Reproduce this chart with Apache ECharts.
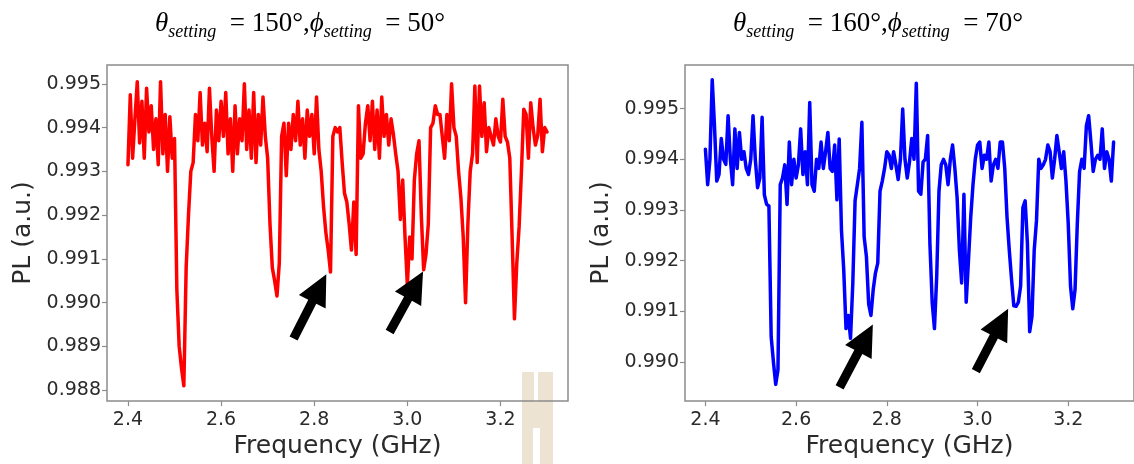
<!DOCTYPE html>
<html>
<head>
<meta charset="utf-8">
<script src="https://cdn.jsdelivr.net/npm/echarts@6/dist/echarts.min.js"></script>
<style>
  html, body { margin: 0; padding: 0; background: #ffffff; }
  #chart { width: 1134px; height: 464px; }
</style>
</head>
<body>
<div id="chart"></div>
<script>
// Microwave sweep frequencies (GHz), one row per 0.05 GHz
const freqGHz = [
  2.400, 2.405, 2.410, 2.415, 2.420, 2.425, 2.430, 2.435, 2.440, 2.445,
  2.450, 2.455, 2.460, 2.465, 2.470, 2.475, 2.480, 2.485, 2.490, 2.495,
  2.500, 2.505, 2.510, 2.515, 2.520, 2.525, 2.530, 2.535, 2.540, 2.545,
  2.550, 2.555, 2.560, 2.565, 2.570, 2.575, 2.580, 2.585, 2.590, 2.595,
  2.600, 2.605, 2.610, 2.615, 2.620, 2.625, 2.630, 2.635, 2.640, 2.645,
  2.650, 2.655, 2.660, 2.665, 2.670, 2.675, 2.680, 2.685, 2.690, 2.695,
  2.700, 2.705, 2.710, 2.715, 2.720, 2.725, 2.730, 2.735, 2.740, 2.745,
  2.750, 2.755, 2.760, 2.765, 2.770, 2.775, 2.780, 2.785, 2.790, 2.795,
  2.800, 2.805, 2.810, 2.815, 2.820, 2.825, 2.830, 2.835, 2.840, 2.845,
  2.850, 2.855, 2.860, 2.865, 2.870, 2.875, 2.880, 2.885, 2.890, 2.895,
  2.900, 2.905, 2.910, 2.915, 2.920, 2.925, 2.930, 2.935, 2.940, 2.945,
  2.950, 2.955, 2.960, 2.965, 2.970, 2.975, 2.980, 2.985, 2.990, 2.995,
  3.000, 3.005, 3.010, 3.015, 3.020, 3.025, 3.030, 3.035, 3.040, 3.045,
  3.050, 3.055, 3.060, 3.065, 3.070, 3.075, 3.080, 3.085, 3.090, 3.095,
  3.100, 3.105, 3.110, 3.115, 3.120, 3.125, 3.130, 3.135, 3.140, 3.145,
  3.150, 3.155, 3.160, 3.165, 3.170, 3.175, 3.180, 3.185, 3.190, 3.195,
  3.200, 3.205, 3.210, 3.215, 3.220, 3.225, 3.230, 3.235, 3.240, 3.245,
  3.250, 3.255, 3.260, 3.265, 3.270, 3.275, 3.280, 3.285, 3.290, 3.295,
  3.300
];

// ODMR photoluminescence, theta = 150 deg, phi = 50 deg
const plTheta150 = [
  0.99315, 0.99475, 0.99330, 0.99420, 0.99505, 0.99365, 0.99460, 0.99330, 0.99490, 0.99390,
  0.99450, 0.99350, 0.99420, 0.99315, 0.99505, 0.99340, 0.99430, 0.99300, 0.99425, 0.99330,
  0.99375, 0.99030, 0.98900, 0.98850, 0.98810, 0.99080, 0.99200, 0.99300, 0.99320, 0.99430,
  0.99370, 0.99480, 0.99360, 0.99410, 0.99345, 0.99490, 0.99380, 0.99300, 0.99440, 0.99370,
  0.99460, 0.99380, 0.99480, 0.99340, 0.99420, 0.99300, 0.99450, 0.99340, 0.99420, 0.99370,
  0.99500, 0.99350, 0.99440, 0.99330, 0.99480, 0.99320, 0.99430, 0.99360, 0.99470, 0.99380,
  0.99330, 0.99180, 0.99080, 0.99050, 0.99015, 0.99090, 0.99380, 0.99410, 0.99290, 0.99410,
  0.99350, 0.99430, 0.99370, 0.99460, 0.99360, 0.99420, 0.99330, 0.99440, 0.99380, 0.99430,
  0.99340, 0.99470, 0.99350, 0.99300, 0.99220, 0.99160, 0.99120, 0.99070, 0.99380, 0.99400,
  0.99390, 0.99400, 0.99320, 0.99250, 0.99230, 0.99180, 0.99120, 0.99230, 0.99110, 0.99450,
  0.99330, 0.99340, 0.99410, 0.99450, 0.99370, 0.99460, 0.99350, 0.99440, 0.99330, 0.99470,
  0.99380, 0.99430, 0.99360, 0.99420, 0.99385, 0.99340, 0.99300, 0.99190, 0.99280, 0.99150,
  0.99040, 0.99150, 0.99100, 0.99280, 0.99340, 0.99370, 0.99200, 0.99075, 0.99110, 0.99180,
  0.99400, 0.99410, 0.99450, 0.99430, 0.99430, 0.99380, 0.99330, 0.99430, 0.99370, 0.99500,
  0.99400, 0.99380, 0.99300, 0.99240, 0.99150, 0.99000, 0.99180, 0.99300, 0.99340, 0.99495,
  0.99320, 0.99495, 0.99380, 0.99457, 0.99345, 0.99400, 0.99380, 0.99360, 0.99420, 0.99380,
  0.99367, 0.99465, 0.99380, 0.99367, 0.99330, 0.99150, 0.98963, 0.99090, 0.99173, 0.99300,
  0.99442, 0.99430, 0.99330, 0.99457, 0.99400, 0.99360, 0.99382, 0.99465, 0.99345, 0.99400,
  0.99390
];

// ODMR photoluminescence, theta = 160 deg, phi = 70 deg
const plTheta160 = [
  0.99420, 0.99350, 0.99400, 0.99557, 0.99466, 0.99357, 0.99370, 0.99441, 0.99400, 0.99390,
  0.99486, 0.99400, 0.99350, 0.99460, 0.99382, 0.99453, 0.99400, 0.99415, 0.99382, 0.99370,
  0.99400, 0.99486, 0.99400, 0.99344, 0.99363, 0.99483, 0.99330, 0.99311, 0.99308, 0.99050,
  0.99000, 0.98956, 0.98985, 0.99350, 0.99363, 0.99389, 0.99311, 0.99434, 0.99350, 0.99400,
  0.99363, 0.99389, 0.99460, 0.99370, 0.99415, 0.99350, 0.99512, 0.99350, 0.99337, 0.99400,
  0.99382, 0.99434, 0.99382, 0.99415, 0.99453, 0.99382, 0.99376, 0.99428, 0.99320, 0.99440,
  0.99260, 0.99182, 0.99066, 0.99092, 0.99047, 0.99156, 0.99318, 0.99350, 0.99382, 0.99473,
  0.99247, 0.99208, 0.99114, 0.99092, 0.99143, 0.99176, 0.99195, 0.99337, 0.99357, 0.99382,
  0.99415, 0.99408, 0.99382, 0.99415, 0.99389, 0.99360, 0.99400, 0.99499, 0.99400, 0.99363,
  0.99395, 0.99441, 0.99400, 0.99550, 0.99337, 0.99331, 0.99395, 0.99400, 0.99447, 0.99234,
  0.99118, 0.99066, 0.99169, 0.99337, 0.99389, 0.99400, 0.99389, 0.99350, 0.99400, 0.99428,
  0.99382, 0.99324, 0.99221, 0.99156, 0.99331, 0.99118, 0.99200, 0.99286, 0.99350, 0.99400,
  0.99428, 0.99434, 0.99382, 0.99408, 0.99400, 0.99434, 0.99357, 0.99389, 0.99400, 0.99382,
  0.99434, 0.99434, 0.99382, 0.99286, 0.99221, 0.99163, 0.99111, 0.99110, 0.99118, 0.99150,
  0.99305, 0.99318, 0.99234, 0.99060, 0.99090, 0.99221, 0.99279, 0.99400, 0.99382, 0.99389,
  0.99400, 0.99428, 0.99415, 0.99363, 0.99400, 0.99447, 0.99415, 0.99382, 0.99415, 0.99357,
  0.99273, 0.99150, 0.99105, 0.99143, 0.99273, 0.99376, 0.99400, 0.99382, 0.99466, 0.99486,
  0.99434, 0.99376, 0.99400, 0.99408, 0.99400, 0.99460, 0.99382, 0.99415, 0.99400, 0.99357,
  0.99434
];

// Tick values
const xTicks = [2.4, 2.6, 2.8, 3.0, 3.2];
const yTicksRed = [0.988, 0.989, 0.990, 0.991, 0.992, 0.993, 0.994, 0.995];
const yTicksBlue = [0.990, 0.991, 0.992, 0.993, 0.994, 0.995];

// Axis ranges [min, max]
const xRange = [2.355, 3.345];
const yRangeRed = [0.98775, 0.99543];
const yRangeBlue = [0.98923, 0.99586];

// Panel headings: [angle theta, angle phi]
const settingsRed = ['150', '50'];
const settingsBlue = ['160', '70'];

// Arrows marking the split resonances: [tailFreq, tailPL, tipFreq, tipPL]
const arrowsRed = [
  [2.7557, 0.98918, 2.8260, 0.99065],
  [2.9620, 0.98933, 3.0337, 0.99071]
];
const arrowsBlue = [
  [2.6959, 0.98950, 2.7692, 0.99074],
  [2.9963, 0.98982, 3.0675, 0.99105]
];

const TEXT_COLOR = '#2a2a2a';
const FRAME_COLOR = '#8c8c8c';
const SANS = 'DejaVu Sans';

function pairs(xs, ys) {
  return xs.map((x, i) => [x, ys[i]]);
}

function xAxisFor(gridIndex) {
  return {
    type: 'value', gridIndex, min: xRange[0], max: xRange[1],
    name: 'Frequency (GHz)', nameLocation: 'middle', nameGap: 29,
    nameTextStyle: { fontFamily: SANS, fontSize: 25, color: TEXT_COLOR },
    axisLine: { show: false, onZero: false },
    axisTick: { show: true, inside: false, length: 5, customValues: xTicks,
      lineStyle: { color: FRAME_COLOR, width: 1.2 } },
    axisLabel: { customValues: xTicks, formatter: v => v.toFixed(1),
      fontFamily: SANS, fontSize: 19, color: TEXT_COLOR, margin: 9 },
    splitLine: { show: false }
  };
}

function yAxisFor(gridIndex, range, ticks) {
  return {
    type: 'value', gridIndex, min: range[0], max: range[1],
    name: 'PL (a.u.)', nameLocation: 'middle', nameGap: 71,
    nameTextStyle: { fontFamily: SANS, fontSize: 25, color: TEXT_COLOR },
    axisLine: { show: false, onZero: false },
    axisTick: { show: true, inside: false, length: 5, customValues: ticks,
      lineStyle: { color: FRAME_COLOR, width: 1.2 } },
    axisLabel: { customValues: ticks, formatter: v => v.toFixed(3),
      fontFamily: SANS, fontSize: 19, color: TEXT_COLOR, margin: 6 },
    splitLine: { show: false }
  };
}

function lineSeries(idx, ys, color) {
  return {
    type: 'line', xAxisIndex: idx, yAxisIndex: idx,
    data: pairs(freqGHz, ys),
    showSymbol: false, symbol: 'none', clip: true,
    lineStyle: { color, width: 3.5, join: 'round', cap: 'round' }
  };
}

const chart = echarts.init(document.getElementById('chart'), null, { renderer: 'canvas' });

chart.setOption({
  animation: false,
  backgroundColor: '#ffffff',
  grid: [
    { left: 107, top: 65, width: 461, height: 342, show: true,
      borderColor: FRAME_COLOR, borderWidth: 1.5, backgroundColor: 'transparent' },
    { left: 685, top: 65, width: 460, height: 342, show: true,
      borderColor: FRAME_COLOR, borderWidth: 1.5, backgroundColor: 'transparent' }
  ],
  xAxis: [xAxisFor(0), xAxisFor(1)],
  yAxis: [yAxisFor(0, yRangeRed, yTicksRed), yAxisFor(1, yRangeBlue, yTicksBlue)],
  series: [
    lineSeries(0, plTheta150, '#ff0000'),
    lineSeries(1, plTheta160, '#0000ff')
  ]
});

// Filled block arrow from tail to tip (pixel coordinates)
function arrowPolygon(tail, tip) {
  const dx = tip[0] - tail[0], dy = tip[1] - tail[1];
  const L = Math.hypot(dx, dy);
  const ux = dx / L, uy = dy / L, nx = -uy, ny = ux;
  const HEAD_LEN = 31, HEAD_HALF = 15, SHAFT_HALF = 4.5;
  const bx = tip[0] - ux * HEAD_LEN, by = tip[1] - uy * HEAD_LEN;
  return [
    [tail[0] + nx * SHAFT_HALF, tail[1] + ny * SHAFT_HALF],
    [bx + nx * SHAFT_HALF, by + ny * SHAFT_HALF],
    [bx + nx * HEAD_HALF, by + ny * HEAD_HALF],
    [tip[0], tip[1]],
    [bx - nx * HEAD_HALF, by - ny * HEAD_HALF],
    [bx - nx * SHAFT_HALF, by - ny * SHAFT_HALF],
    [tail[0] - nx * SHAFT_HALF, tail[1] - ny * SHAFT_HALF]
  ];
}

function arrowElements(gridIndex, list) {
  return list.map(a => {
    const tail = chart.convertToPixel({ gridIndex }, [a[0], a[1]]);
    const tip = chart.convertToPixel({ gridIndex }, [a[2], a[3]]);
    return { type: 'polygon', z: 100, shape: { points: arrowPolygon(tail, tip) },
      style: { fill: '#000000' } };
  });
}

const titleRich = {
  it: { fontFamily: 'Liberation Serif', fontStyle: 'italic', fontSize: 27, lineHeight: 34, color: '#000' },
  sub: { fontFamily: 'Liberation Serif', fontStyle: 'italic', fontSize: 18, lineHeight: 18, verticalAlign: 'bottom', color: '#000' },
  rm: { fontFamily: 'Liberation Serif', fontSize: 27, lineHeight: 34, color: '#000' }
};

function titleElement(cx, s) {
  return {
    type: 'text', z: 100, x: cx, y: 7,
    style: {
      text: '{it|θ}{sub|setting}{rm|  = ' + s[0] + '°,}{it|ϕ}{sub|setting}{rm|  = ' + s[1] + '°}',
      rich: titleRich, align: 'center', verticalAlign: 'top'
    }
  };
}

// Faint stamp in the lower part of the left panel
const STAMP = '#ece3d2';
const stamp = [
  { x: 522, y: 372, w: 12, h: 30 }, { x: 538, y: 372, w: 15, h: 30 },
  { x: 522, y: 402, w: 31, h: 26 },
  { x: 522, y: 428, w: 11, h: 36 }, { x: 540, y: 428, w: 13, h: 36 }
].map(r => ({ type: 'rect', z: -1, shape: { x: r.x, y: r.y, width: r.w, height: r.h },
  style: { fill: STAMP } }));

chart.setOption({
  graphic: {
    elements: [
      ...stamp,
      titleElement(300, settingsRed),
      titleElement(878, settingsBlue),
      ...arrowElements(0, arrowsRed),
      ...arrowElements(1, arrowsBlue)
    ]
  }
});
</script>
</body>
</html>
